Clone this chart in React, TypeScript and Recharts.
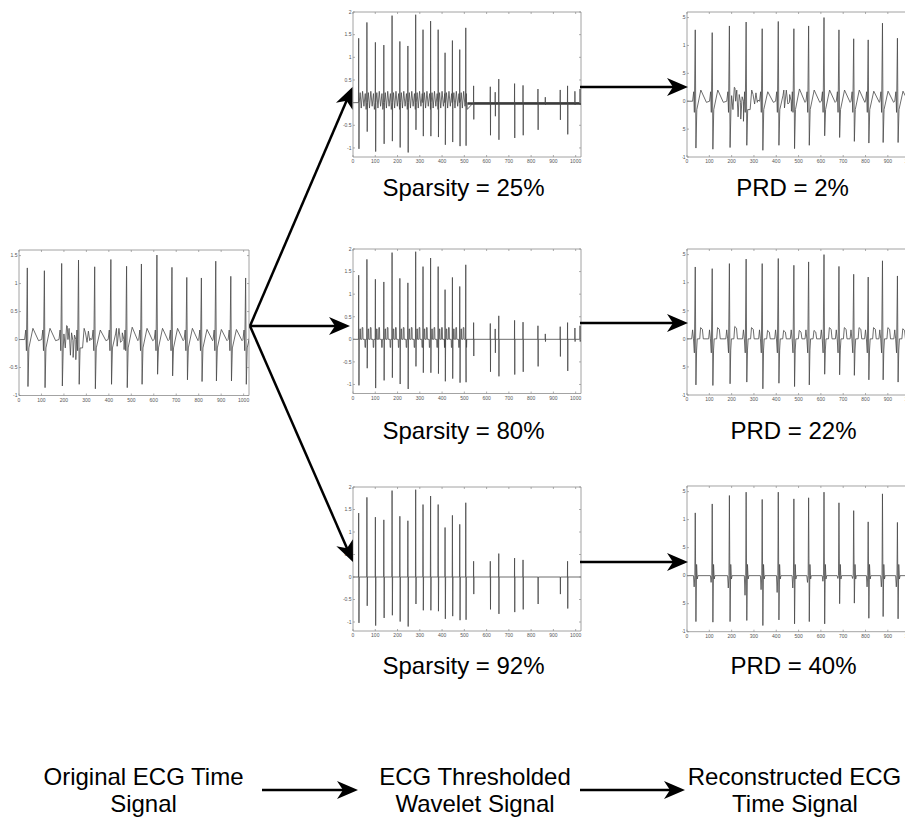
import React from "react";
import { LineChart, Line, XAxis, YAxis, ReferenceArea } from "recharts";

// ---------- values ----------
const xTicks = [0, 100, 200, 300, 400, 500, 600, 700, 800, 900, 1000];
const yTicksEcg = [-1, -0.5, 0, 0.5, 1, 1.5];
const yTicksWav = [-1, -0.5, 0, 0.5, 1, 1.5, 2];

// R-peak positions (samples) shared by the time-domain signals
const beatX = [37, 113, 190, 265, 337, 409, 479, 545, 614, 681, 747, 812, 876, 943, 1009];

// original ECG
const origR = [1.28, 1.23, 1.36, 1.42, 1.3, 1.43, 1.31, 1.35, 1.51, 1.29, 1.11, 1.1, 1.4, 1.13, 1.1];
const origS = [-0.84, -0.86, -0.83, -0.8, -0.88, -0.8, -0.86, -0.8, -0.62, -0.65, -0.72, -0.75, -0.74, -0.74, -0.8];
const origT = [0.2, 0.2, 0.24, 0.2, 0.17, 0.2, 0.22, 0.2, 0.2, 0.2, 0.2, 0.18, 0.18, 0.18, 0.18];
const origWiggle: [number, number][] = [
  [200, 0.1], [206, -0.15], [212, 0.25], [218, 0.0], [223, 0.2], [229, -0.28], [234, 0.12],
  [241, -0.32], [247, 0.08], [253, -0.36], [259, 0.0], [283, -0.15], [296, 0.12], [303, -0.05],
  [309, 0.15], [318, 0.02], [430, 0.1], [437, -0.12], [445, 0.2], [452, -0.05], [460, 0.12], [468, -0.18],
];

// reconstructions
const rec2R = [1.28, 1.23, 1.35, 1.42, 1.3, 1.43, 1.3, 1.35, 1.5, 1.28, 1.12, 1.1, 1.4, 1.13, 1.1];
const rec2S = [-0.84, -0.86, -0.83, -0.79, -0.88, -0.79, -0.85, -0.79, -0.62, -0.65, -0.72, -0.75, -0.74, -0.74, -0.8];
const rec22R = [1.28, 1.25, 1.34, 1.42, 1.34, 1.43, 1.31, 1.37, 1.5, 1.29, 1.15, 1.1, 1.39, 1.12];
const rec22S = [-0.82, -0.83, -0.8, -0.77, -0.89, -0.79, -0.85, -0.82, -0.63, -0.64, -0.65, -0.73, -0.73, -0.77];
const rec22T = [0.2, 0.2, 0.22, 0.2, 0.15, 0.15, 0.15, 0.15, 0.2, 0.2, 0.2, 0.2, 0.2, 0.18];
const rec40R = [1.12, 1.28, 1.43, 1.49, 1.36, 1.49, 1.37, 1.39, 1.49, 1.3, 1.16, 0.96, 1.46, 0.95];
const rec40S = [-0.82, -0.83, -0.82, -0.8, -0.89, -0.79, -0.86, -0.82, -0.86, -0.5, -0.49, -0.76, -0.73, -0.77];
const rec40Q = [-0.2, -0.12, -0.22, -0.35, -0.25, -0.3, -0.22, -0.12, -0.1, -0.05, -0.05, -0.2, -0.2, -0.2];

// wavelet coefficients: approximation half (0-512) and detail half (512-1024)
const wavX = [26, 63, 101, 139, 176, 211, 247, 282, 315, 349, 383, 414, 447, 480, 507];
const wavUp = [1.42, 1.77, 1.33, 1.27, 1.92, 1.35, 1.25, 1.94, 1.61, 1.8, 1.61, 1.1, 1.37, 1.17, 1.65];
const wavDown = [-1.02, -0.64, -1.08, -0.91, -0.85, -0.99, -1.1, -0.6, -0.74, -0.74, -0.76, -0.93, -0.87, -0.96, -0.95];
const detX = [542, 617, 639, 655, 726, 764, 831, 864, 931, 964, 997, 1020];
const detUp = [0.37, 0.35, 0.23, 0.52, 0.42, 0.38, 0.3, 0.12, 0.28, 0.37, 0.25, 0.3];
const detDown = [-0.37, -0.72, -0.3, -0.82, -0.78, -0.72, -0.6, -0.05, -0.38, -0.7, -0.05, -0.05];
const det92X = [542, 617, 655, 726, 764, 831, 931, 964];
const det92Up = [0.35, 0.35, 0.52, 0.42, 0.38, 0, 0, 0.35];
const det92Down = [-0.38, -0.72, -0.82, -0.78, -0.72, -0.6, -0.38, -0.7];
// wiggle between approximation spikes (offset, value)
const wav25Dx = [6, 11, 17, 23, 29, 33];
const wav25V = [0.22, -0.12, 0.25, -0.08, 0.2, -0.15];
const wav80Dx = [4, 5, 7, 8, 14, 15, 18, 19, 27, 28, 30, 31];
const wav80V = [0, 0.23, 0.23, 0, 0, 0.26, 0.26, 0, 0, -0.18, -0.18, 0];
const noiseLevel = -0.02;

// ---------- builders ----------
type Pt = { x: number; y: number };
const byX = (a: Pt, b: Pt) => a.x - b.x;

const ECG_DX = [-12, -7, -4, 0, 3, 7, 25, 50];
function ecgPoints(r: number[], s: number[], t: number[], extra: [number, number][] = []): Pt[] {
  const pts: Pt[] = [{ x: 0, y: 0 }];
  r.forEach((rv, i) => {
    const vals = [0, 0.17, -0.2, rv, s[i], -0.15, t[i], -0.02];
    ECG_DX.forEach((dx, j) => pts.push({ x: beatX[i] + dx, y: vals[j] }));
  });
  extra.forEach(([x, y]) => pts.push({ x, y }));
  return pts.sort(byX);
}

const REC22_DX = [-16, -12, -8, -4, 0, 3, 6, 9, 20, 24, 32, 36];
function rec22Points(): Pt[] {
  const pts: Pt[] = [{ x: 0, y: 0 }];
  rec22R.forEach((rv, i) => {
    const vals = [0, 0.16, 0, -0.25, rv, rec22S[i], -0.2, 0, 0, rec22T[i], rec22T[i] - 0.03, 0];
    REC22_DX.forEach((dx, j) => pts.push({ x: beatX[i] + dx, y: vals[j] }));
  });
  pts.push({ x: 1024, y: 0 });
  return pts.sort(byX);
}

const REC40_DX = [-8, -5, -2, 0, 3, 6, 9, 12];
function rec40Points(): Pt[] {
  const pts: Pt[] = [{ x: 0, y: 0 }];
  rec40R.forEach((rv, i) => {
    const vals = [0, rec40Q[i], 0, rv, rec40S[i], 0.2, -0.06, 0];
    REC40_DX.forEach((dx, j) => pts.push({ x: beatX[i] + dx, y: vals[j] }));
  });
  pts.push({ x: 1024, y: 0 });
  return pts.sort(byX);
}

function wavPoints(
  waveDx: number[] | null,
  waveV: number[] | null,
  dX: number[],
  dUp: number[],
  dDown: number[]
): Pt[] {
  const pts: Pt[] = [{ x: 0, y: 0 }];
  wavX.forEach((x, i) => {
    pts.push({ x: x - 1.5, y: 0 }, { x: x - 0.5, y: wavUp[i] }, { x: x + 0.8, y: wavDown[i] }, { x: x + 2, y: 0 });
    if (waveDx && waveV && x < 500) waveDx.forEach((dx, j) => pts.push({ x: x + dx, y: waveV[j] }));
  });
  pts.push({ x: 512, y: 0 });
  dX.forEach((x, i) => {
    pts.push({ x: x - 1, y: 0 }, { x: x - 0.3, y: dUp[i] }, { x: x + 0.5, y: dDown[i] }, { x: x + 1.2, y: 0 });
  });
  pts.push({ x: 1024, y: 0 });
  return pts.sort(byX);
}

// ---------- styling ----------
const FRAME = "#8c8c8c";
const INK = "#484848";
const FONT = '"Liberation Sans", Arial, Helvetica, sans-serif';

type Series = { data: Pt[]; width: number; color: string };

function MiniPlot({
  left,
  top,
  plotW,
  plotH,
  yDomain,
  yTicks,
  series,
}: {
  left: number;
  top: number;
  plotW: number;
  plotH: number;
  yDomain: [number, number];
  yTicks: number[];
  series: Series[];
}) {
  const axisW = 16;
  const axisH = 10;
  const pad = 3;

  const xTick = (p: any) => (
    <g>
      <line x1={p.x} x2={p.x} y1={p.y} y2={p.y - 2} stroke={FRAME} strokeWidth={0.7} />
      <line x1={p.x} x2={p.x} y1={p.y - plotH} y2={p.y - plotH + 2} stroke={FRAME} strokeWidth={0.7} />
      <text x={p.x} y={p.y + 6} textAnchor="middle" fontSize={5} fill="#555" fontFamily={FONT}>
        {p.payload.value}
      </text>
    </g>
  );
  const yTick = (p: any) => (
    <g>
      <line x1={p.x} x2={p.x + 2} y1={p.y} y2={p.y} stroke={FRAME} strokeWidth={0.7} />
      <line x1={p.x + plotW} x2={p.x + plotW - 2} y1={p.y} y2={p.y} stroke={FRAME} strokeWidth={0.7} />
      <text x={p.x - 1.5} y={p.y + 1.8} textAnchor="end" fontSize={5} fill="#555" fontFamily={FONT}>
        {p.payload.value}
      </text>
    </g>
  );

  return (
    <div style={{ position: "absolute", left: left - axisW, top: top - pad }}>
      <LineChart
        width={axisW + plotW + pad}
        height={pad + plotH + axisH}
        margin={{ top: pad, right: pad, bottom: 0, left: 0 }}
      >
        <XAxis
          type="number"
          dataKey="x"
          domain={[0, 1024]}
          ticks={xTicks}
          interval={0}
          allowDataOverflow
          axisLine={false}
          tickLine={false}
          tickSize={0}
          tickMargin={0}
          height={axisH}
          tick={xTick}
        />
        <YAxis
          type="number"
          dataKey="y"
          domain={yDomain}
          ticks={yTicks}
          interval={0}
          allowDataOverflow
          axisLine={false}
          tickLine={false}
          tickSize={0}
          tickMargin={0}
          width={axisW}
          tick={yTick}
        />
        <ReferenceArea
          x1={0}
          x2={1024}
          y1={yDomain[0]}
          y2={yDomain[1]}
          fill="none"
          stroke={FRAME}
          strokeWidth={0.8}
          ifOverflow="visible"
        />
        {series.map((s, i) => (
          <Line
            key={i}
            data={s.data}
            dataKey="y"
            type="linear"
            stroke={s.color}
            strokeWidth={s.width}
            dot={false}
            activeDot={false}
            isAnimationActive={false}
          />
        ))}
      </LineChart>
    </div>
  );
}

function Arrow({ x1, y1, x2, y2 }: { x1: number; y1: number; x2: number; y2: number }) {
  const ang = (Math.atan2(y2 - y1, x2 - x1) * 180) / Math.PI;
  const len = Math.hypot(x2 - x1, y2 - y1);
  return (
    <g transform={`translate(${x1},${y1}) rotate(${ang})`}>
      <line x1={0} y1={0} x2={len - 14} y2={0} stroke="#000" strokeWidth={2.5} />
      <path d={`M${len},0 L${len - 21},-9 L${len - 15},0 L${len - 21},9 Z`} fill="#000" />
    </g>
  );
}

function Label({ x, y, text }: { x: number; y: number; text: string }) {
  return (
    <text x={x} y={y} textAnchor="middle" fontSize={24} fontFamily={FONT} fill="#000">
      {text}
    </text>
  );
}

export default function App() {
  const orig = ecgPoints(origR, origS, origT, origWiggle);
  const rec2 = ecgPoints(rec2R, rec2S, origT, origWiggle);
  const rec22 = rec22Points();
  const rec40 = rec40Points();
  const wav25 = wavPoints(wav25Dx, wav25V, detX, detUp, detDown);
  const wav80 = wavPoints(wav80Dx, wav80V, detX, detUp, detDown);
  const wav92 = wavPoints(null, null, det92X, det92Up, det92Down);
  const noiseBand: Pt[] = [
    { x: 514, y: noiseLevel },
    { x: 1024, y: noiseLevel },
  ];

  const line = (data: Pt[]): Series => ({ data, width: 0.8, color: INK });

  return (
    <div
      style={{
        position: "absolute",
        left: 0,
        top: 0,
        width: 905,
        height: 818,
        overflow: "hidden",
        background: "#fff",
        fontFamily: FONT,
      }}
    >
      <MiniPlot left={19} top={249.5} plotW={230} plotH={145.5} yDomain={[-1, 1.6]} yTicks={yTicksEcg} series={[line(orig)]} />

      <MiniPlot
        left={353}
        top={11.7}
        plotW={228}
        plotH={145}
        yDomain={[-1.2, 2]}
        yTicks={yTicksWav}
        series={[{ data: noiseBand, width: 2.5, color: "#3a3a3a" }, line(wav25)]}
      />
      <MiniPlot left={353} top={249} plotW={228} plotH={144.5} yDomain={[-1.2, 2]} yTicks={yTicksWav} series={[line(wav80)]} />
      <MiniPlot left={353.3} top={486.7} plotW={228} plotH={144} yDomain={[-1.2, 2]} yTicks={yTicksWav} series={[line(wav92)]} />

      <div style={{ position: "absolute", left: 682, top: 0, width: 223, height: 818, overflow: "hidden" }}>
        <MiniPlot left={4.7} top={11.7} plotW={228.5} plotH={145} yDomain={[-1, 1.6]} yTicks={yTicksEcg} series={[line(rec2)]} />
        <MiniPlot left={4.7} top={249} plotW={228.5} plotH={146} yDomain={[-1, 1.6]} yTicks={yTicksEcg} series={[line(rec22)]} />
        <MiniPlot left={4.7} top={486} plotW={228.5} plotH={145.7} yDomain={[-1, 1.6]} yTicks={yTicksEcg} series={[line(rec40)]} />
      </div>

      <svg width={905} height={818} style={{ position: "absolute", left: 0, top: 0 }}>
        <Arrow x1={250} y1={326} x2={352.5} y2={87} />
        <Arrow x1={250} y1={326} x2={350} y2={326} />
        <Arrow x1={250} y1={326} x2={353} y2={562} />
        <Arrow x1={580} y1={87} x2={688} y2={87} />
        <Arrow x1={580} y1={323} x2={688} y2={323} />
        <Arrow x1={580} y1={562} x2={688} y2={562} />
        <Arrow x1={262} y1={790} x2={358} y2={790} />
        <Arrow x1={580} y1={790} x2={685} y2={790} />

        <Label x={463.5} y={196} text="Sparsity = 25%" />
        <Label x={792.5} y={196} text="PRD = 2%" />
        <Label x={463.5} y={439} text="Sparsity = 80%" />
        <Label x={793.5} y={439} text="PRD = 22%" />
        <Label x={463.5} y={674} text="Sparsity = 92%" />
        <Label x={793.5} y={674} text="PRD = 40%" />

        <Label x={143.5} y={785} text="Original ECG Time" />
        <Label x={143.5} y={812} text="Signal" />
        <Label x={475} y={785} text="ECG Thresholded" />
        <Label x={475} y={812} text="Wavelet Signal" />
        <Label x={794.5} y={785} text="Reconstructed ECG" />
        <Label x={795} y={812} text="Time Signal" />
      </svg>
    </div>
  );
}
